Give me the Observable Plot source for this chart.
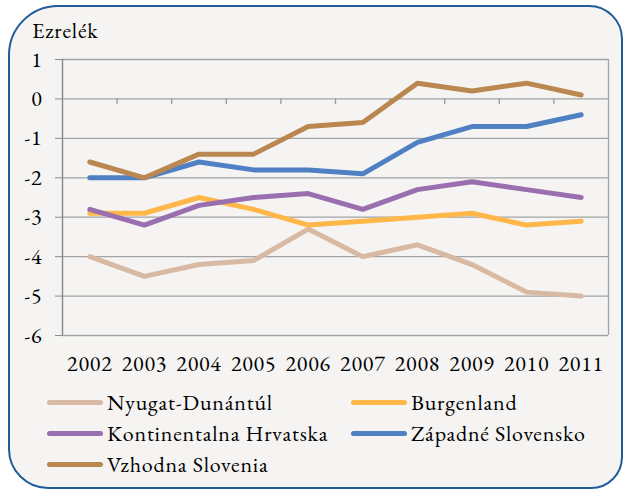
<!DOCTYPE html>
<html>
<head>
<meta charset="utf-8">
<script src="https://cdn.jsdelivr.net/npm/d3@7"></script>
<script src="https://cdn.jsdelivr.net/npm/@observablehq/plot@0.6"></script>
<style>
  html, body { margin: 0; padding: 0; background: #ffffff; }
  body { width: 627px; height: 495px; position: relative; overflow: hidden; }
  #frame { position: absolute; left: 8px; top: 5px; width: 615px; height: 484px; box-sizing: border-box;
           border: 2px solid #1f5c99; border-radius: 50px 34px 32px 40px; background: #f5f4f2; }
  #chart { position: absolute; left: 0; top: 0; }
  #ylabel { position: absolute; left: 32px; top: 19px; line-height: 24px; color: #000; }
  #legend { position: absolute; left: 47px; top: 390px; display: grid; grid-template-columns: 304px 260px; row-gap: 7px; color: #000; }
  .item { display: flex; align-items: center; height: 24px; }
  .sw { width: 56px; height: 5px; border-radius: 3px; margin-right: 4px; }
</style>
</head>
<body>
<div id="frame"></div>
<div id="chart"></div>
<div id="ylabel">Ezrelék</div>
<div id="legend"></div>
<script>
const years = [2002, 2003, 2004, 2005, 2006, 2007, 2008, 2009, 2010, 2011];
const seriesNames = ["Nyugat-Dunántúl", "Burgenland", "Kontinentalna Hrvatska", "Západné Slovensko", "Vzhodna Slovenia"];
const nyugatDunantul = [-4.0, -4.5, -4.2, -4.1, -3.3, -4.0, -3.7, -4.2, -4.9, -5.0];
const burgenland = [-2.9, -2.9, -2.5, -2.8, -3.2, -3.1, -3.0, -2.9, -3.2, -3.1];
const kontinentalnaHrvatska = [-2.8, -3.2, -2.7, -2.5, -2.4, -2.8, -2.3, -2.1, -2.3, -2.5];
const zapadneSlovensko = [-2.0, -2.0, -1.6, -1.8, -1.8, -1.9, -1.1, -0.7, -0.7, -0.4];
const vzhodnaSlovenia = [-1.6, -2.0, -1.4, -1.4, -0.7, -0.6, 0.4, 0.2, 0.4, 0.1];
const colors = ["#d8b9a3", "#ffb74a", "#9a6fb0", "#4f80c4", "#b9874f"];
const yTicks = [-6, -5, -4, -3, -2, -1, 0, 1];

const FONT = '"EB Garamond", "Liberation Serif", serif';
const FS = "22px";
const LS = "0.8px";

const allSeries = [nyugatDunantul, burgenland, kontinentalnaHrvatska, zapadneSlovensko, vzhodnaSlovenia];
const data = [];
allSeries.forEach((vals, i) => vals.forEach((v, j) => data.push({series: seriesNames[i], year: years[j], value: v})));
const boundaries = years.slice(0, -1).map(y => y + 0.5);

const chart = Plot.plot({
  width: 627,
  height: 380,
  marginTop: 59,
  marginBottom: 45,
  marginLeft: 62,
  marginRight: 19,
  style: { background: "transparent", fontFamily: FONT, fontSize: FS, letterSpacing: LS, color: "#000" },
  x: { domain: [years[0] - 0.5, years[years.length - 1] + 0.5], label: null },
  y: { domain: [-6, 1], label: null },
  color: { domain: seriesNames, range: colors },
  marks: [
    Plot.ruleY(yTicks, { stroke: "#a3a3a3", strokeWidth: 1.3 }),
    Plot.ruleX([years[years.length - 1] + 0.5], { stroke: "#a3a3a3", strokeWidth: 1.3 }),
    Plot.ruleX(boundaries, { y1: 0, y2: -0.14, stroke: "#999", strokeWidth: 1.3 }),
    Plot.ruleX([years[0] - 0.5], { stroke: "#8c8c8c", strokeWidth: 1.5 }),
    Plot.axisX({ ticks: years, tickFormat: d => String(d), tickSize: 0, tickPadding: 20, fontSize: 22, fill: "#000", label: null }),
    Plot.axisY({ ticks: yTicks, tickFormat: d => String(d), tickSize: 7, tickPadding: 13, fontSize: 22, stroke: "#8c8c8c", fill: "#000", label: null }),
    Plot.line(data, { x: "year", y: "value", z: "series", stroke: "series", strokeWidth: 5, strokeLinecap: "round", strokeLinejoin: "round" })
  ]
});
chart.style.fontFamily = FONT;
chart.style.letterSpacing = LS;
chart.querySelectorAll("text").forEach(t => { t.style.fontFamily = FONT; t.style.letterSpacing = LS; });
document.getElementById("chart").appendChild(chart);

const yl = document.getElementById("ylabel");
yl.style.fontFamily = FONT; yl.style.fontSize = FS; yl.style.letterSpacing = LS;

const legend = document.getElementById("legend");
seriesNames.forEach((name, i) => {
  const item = document.createElement("div");
  item.className = "item";
  const sw = document.createElement("span");
  sw.className = "sw";
  sw.style.background = colors[i];
  const t = document.createElement("span");
  t.textContent = name;
  t.style.fontFamily = FONT; t.style.fontSize = FS; t.style.letterSpacing = LS;
  item.appendChild(sw);
  item.appendChild(t);
  legend.appendChild(item);
});
</script>
</body>
</html>
